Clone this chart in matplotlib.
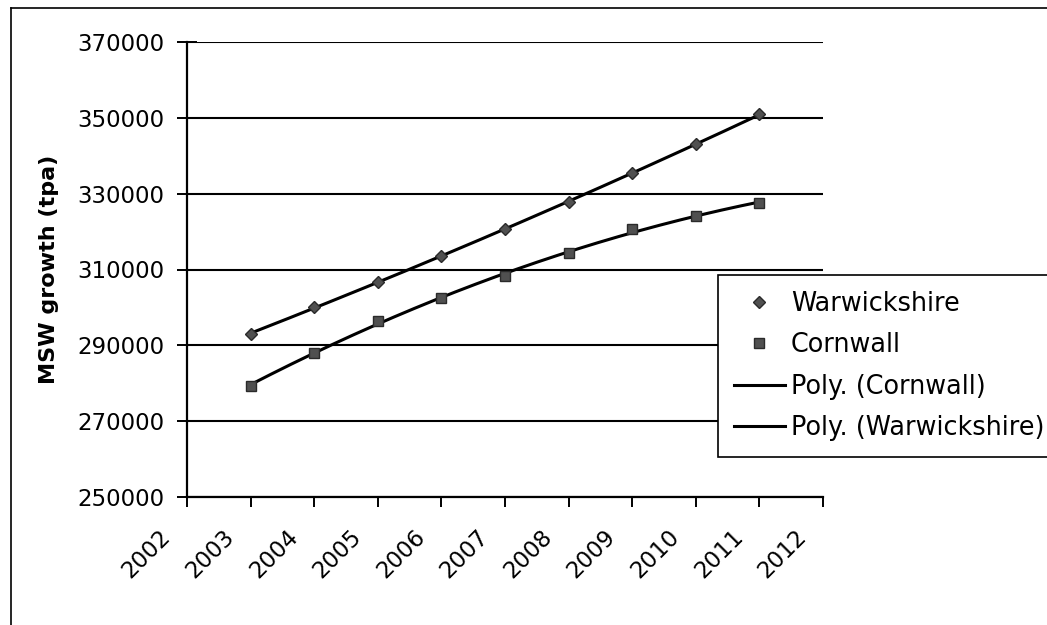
import numpy as np
import matplotlib
matplotlib.use("Agg")
import matplotlib.pyplot as plt
import matplotlib.transforms as mtransforms
from matplotlib.lines import Line2D

# the original is a horizontally stretched Arial; DejaVu's wider glyphs fit it best
plt.rcParams['font.family'] = ['DejaVu Sans']

# data
years = [2003, 2004, 2005, 2006, 2007, 2008, 2009, 2010, 2011]
warwickshire = [293000, 300000, 306800, 313600, 320600, 327800, 335500, 343000, 350900]
cornwall = [279400, 288000, 296500, 302400, 308200, 314300, 320600, 324100, 327600]
x_ticks = list(range(2002, 2013))
y_ticks = list(range(250000, 370001, 20000))

fig = plt.figure(figsize=(10.47, 6.25), dpi=100)
ax = fig.add_axes([187 / 1047, 1 - 497 / 625, (823 - 187) / 1047, (497 - 42) / 625])

# polynomial (order 2) trendlines, like the spreadsheet ones
xs = np.linspace(years[0], years[-1], 200)
fit_c = np.polyval(np.polyfit(years, cornwall, 2), xs)
fit_w = np.polyval(np.polyfit(years, warwickshire, 2), xs)

ax.plot(years, warwickshire, linestyle='none', marker='D', markersize=6.5,
        color='#505050', markeredgecolor='#2a2a2a', label='Warwickshire', zorder=4)
ax.plot(years, cornwall, linestyle='none', marker='s', markersize=7,
        color='#505050', markeredgecolor='#2a2a2a', label='Cornwall', zorder=4)
ax.plot(xs, fit_c, color='black', lw=2.2, label='Poly. (Cornwall)', zorder=3)
ax.plot(xs, fit_w, color='black', lw=2.2, label='Poly. (Warwickshire)', zorder=3)

ax.set_xlim(2002, 2012)
ax.set_ylim(250000, 370000)
ax.set_xticks(x_ticks)
ax.set_xticklabels([str(x) for x in x_ticks], rotation=45, ha='right', va='top',
                   rotation_mode='anchor', fontsize=16.5)
ax.set_yticks(y_ticks)
ax.set_yticklabels([str(y) for y in y_ticks], fontsize=16.5)
ax.tick_params(axis='y', direction='inout', length=14, width=1.4, pad=9)
ax.tick_params(axis='x', direction='out', length=7, width=1.4, pad=13)

# shift the slanted year labels left, as in the original
shift = mtransforms.ScaledTranslation(-28 / 100, 0, fig.dpi_scale_trans)
for lab in ax.get_xticklabels():
    lab.set_transform(lab.get_transform() + shift)

ax.grid(axis='y', color='black', lw=1.5)
ax.set_axisbelow(True)
for side in ['top', 'right']:
    ax.spines[side].set_visible(False)
for side in ['left', 'bottom']:
    ax.spines[side].set_linewidth(1.6)

ax.set_ylabel('MSW growth (tpa)', fontsize=16, fontweight='bold')
ax.yaxis.set_label_coords(-0.201, 0.5)

leg = fig.legend(loc='upper left', bbox_to_anchor=(718 / 1047, 1 - 275 / 625),
                 fontsize=18.4, frameon=True, fancybox=False, framealpha=1,
                 edgecolor='black', handlelength=2.0, handletextpad=0.23,
                 borderpad=0.62, labelspacing=0.6, borderaxespad=0)
leg.get_frame().set_linewidth(1.2)

# outer chart border (only top and left visible in the reference crop)
fig.add_artist(Line2D([11 / 1047, 1], [1 - 8 / 625, 1 - 8 / 625], color='black', lw=1.2))
fig.add_artist(Line2D([11 / 1047, 11 / 1047], [0, 1 - 8 / 625], color='black', lw=1.2))

fig.savefig('out.png', dpi=100)
